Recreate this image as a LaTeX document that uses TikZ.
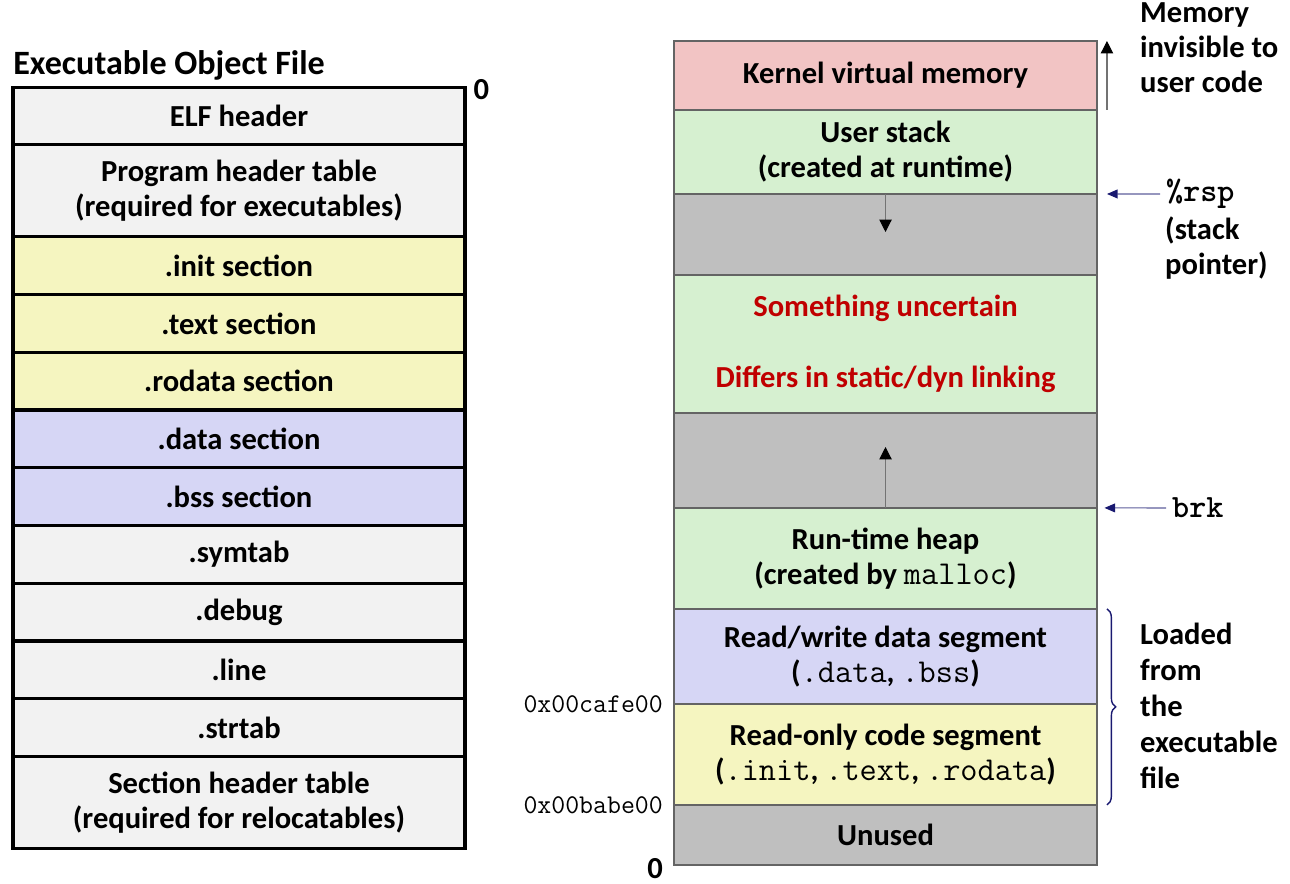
\documentclass[tikz,border=0pt]{standalone}
\usepackage{fontspec}
\setmainfont{Carlito}
\usetikzlibrary{positioning,arrows.meta,decorations.pathreplacing}
\definecolor{filegray}{RGB}{242,242,242}
\definecolor{codeyellow}{RGB}{245,245,192}
\definecolor{datablue}{RGB}{214,214,245}
\definecolor{kernpink}{RGB}{242,196,196}
\definecolor{usergreen}{RGB}{214,240,208}
\definecolor{freegray}{RGB}{191,191,191}
\definecolor{segline}{RGB}{100,100,100}
\definecolor{warnred}{RGB}{192,0,0}
\definecolor{ptrblue}{RGB}{25,25,112}
\newcommand{\segtt}[1]{{\mdseries\fontsize{19}{20}\selectfont\ttfamily #1}}
\newcommand{\ptrtt}[1]{{\fontsize{18.5}{20}\selectfont\ttfamily #1}}
\tikzset{
  sect/.style={draw=black, line width=1.8pt, fill=filegray, minimum width=9.04cm,
    minimum height=1.155cm, inner sep=0pt, outer sep=0pt, align=center},
  seg/.style={draw=segline, line width=0.9pt, minimum width=8.46cm,
    inner sep=0pt, outer sep=0pt, align=center},
  addr/.style={font=\fontsize{15.4}{16}\selectfont\ttfamily},
  growarrow/.style={draw=black!55, line width=0.6pt, -{Triangle[length=7pt,width=7pt,color=black]}},
  ptrarrow/.style={draw=ptrblue!70, line width=0.6pt, -{Triangle[length=6pt,width=5pt,color=ptrblue]}}
}

\begin{document}
\begin{tikzpicture}[x=0.02cm, y=-0.02cm,
    every node/.style={font=\bfseries\fontsize{17.4}{20}\selectfont}]
    \useasboundingbox (0,0) rectangle (1290,884);

    % the object file
    \node[anchor=base west, inner sep=0pt, font=\bfseries\fontsize{19.4}{22}\selectfont] (title) at (13,75) {Executable Object File};
    \node[sect] (elf) at (239,116) {ELF header};
    \node[sect, minimum height=1.84cm, below=0pt of elf] (pht) {Program header table\\(required for executables)};
    \node[sect, fill=codeyellow, below=0pt of pht] (init) {.init section};
    \node[sect, fill=codeyellow, below=0pt of init] (text) {.text section};
    \node[sect, fill=codeyellow, below=0pt of text] (rodata) {.rodata section};
    \node[sect, fill=datablue, below=0pt of rodata] (data) {.data section};
    \node[sect, fill=datablue, below=0pt of data] (bss) {.bss section};
    \node[sect, below=0pt of bss] (symtab) {.symtab};
    \node[sect, below=0pt of symtab] (debug) {.debug};
    \node[sect, below=0pt of debug] (line) {.line};
    \node[sect, below=0pt of line] (strtab) {.strtab};
    \node[sect, minimum height=1.84cm, below=0pt of strtab] (sht) {Section header table\\(required for relocatables)};
    \node[right=0.05cm of elf.north east, yshift=-0.05cm] (filezero) {0};

    % the process image
    \node[seg, fill=kernpink, minimum height=1.38cm] (kern) at (885.5,75.5) {Kernel virtual memory};
    \node[seg, fill=usergreen, minimum height=1.68cm, below=0pt of kern] (ustack) {User stack\\(created at runtime)};
    \node[seg, fill=freegray, minimum height=1.62cm, below=0pt of ustack] (gapup) {};
    \node[seg, fill=usergreen, minimum height=2.76cm, below=0pt of gapup, text=warnred] (shlib) {Something uncertain\\[20pt]Differs in static/dyn linking};
    \node[seg, fill=freegray, minimum height=1.9cm, below=0pt of shlib] (gapdown) {};
    \node[seg, fill=usergreen, minimum height=2.02cm, below=0pt of gapdown] (heap) {Run-time heap\\(created by \segtt{malloc})};
    \node[seg, fill=datablue, minimum height=1.9cm, below=0pt of heap] (rwseg) {Read/write data segment\\(\segtt{.data}, \segtt{.bss})};
    \node[seg, fill=codeyellow, minimum height=2.02cm, below=0pt of rwseg] (roseg) {Read-only code segment\\(\segtt{.init}, \segtt{.text}, \segtt{.rodata})};
    \node[seg, fill=freegray, minimum height=1.2cm, below=0pt of roseg] (unused) {Unused};

    \node[addr, left=0.1cm of roseg.north west] (cafe) {0x00cafe00};
    \node[addr, left=0.1cm of roseg.south west] (babe) {0x00babe00};
    \node[left=0.1cm of unused.south west, yshift=-0.08cm] (memzero) {0};

    % growth arrows
    \coordinate (stacktip) at (885.5,232);
    \coordinate (heaptip) at (885.5,447);
    \draw[growarrow] (gapup.north) -- (stacktip);
    \draw[growarrow] (gapdown.south) -- (heaptip);

    % notes on the right
    \draw[growarrow] ([xshift=0.2cm]kern.south east) -- ([xshift=0.2cm]kern.north east);
    \node[anchor=west, align=left] (kernnote) at (1134,48) {Memory\\invisible to\\user code};

    \node[anchor=west] (rsp) at (1160,194) {\ptrtt{\%rsp}};
    \node[anchor=west, align=left] (rspnote) at (1159,248) {(stack\\pointer)};
    \draw[ptrarrow] (rsp.west) -- ([xshift=0.2cm]ustack.south east);

    \node[anchor=west] (brk) at (1166,508) {\ptrtt{brk}};
    \draw[ptrarrow] (brk.west) -- ([xshift=0.15cm]gapdown.south east);

    \draw[ptrblue, line width=0.8pt, decorate, decoration={brace, amplitude=5pt}]
        ([xshift=0.2cm]rwseg.north east) -- ([xshift=0.2cm]roseg.south east);
    \node[anchor=west, align=left, font=\bfseries\fontsize{17.4}{20.5}\selectfont] (loaded) at (1134,706) {Loaded\\from\\the\\executable\\file};
\end{tikzpicture}
\end{document}
